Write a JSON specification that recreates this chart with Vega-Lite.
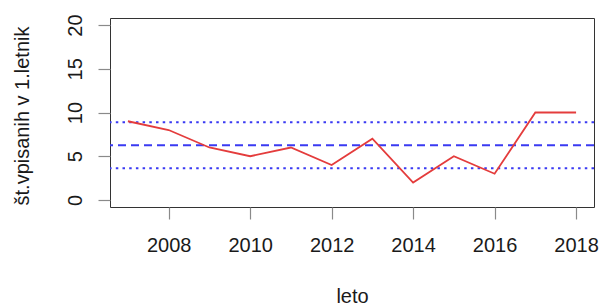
{
  "$schema": "https://vega.github.io/schema/vega-lite/v6.json",
  "autosize": {"type": "none"},
  "width": 484,
  "height": 189,
  "padding": {"left": 110, "top": 18, "right": 9, "bottom": 100},
  "background": "white",
  "config": {
    "view": {"stroke": "#333333", "strokeWidth": 1},
    "font": "Liberation Sans",
    "axis": {
      "grid": false,
      "domain": false,
      "tickColor": "#8a8a8a",
      "tickWidth": 1.2,
      "tickSize": 12,
      "labelFont": "Liberation Sans",
      "labelFontSize": 20,
      "labelColor": "#1a1a1a",
      "titleFont": "Liberation Sans",
      "titleFontSize": 20,
      "titleFontWeight": "normal",
      "titleColor": "#1a1a1a"
    }
  },
  "datasets": {
    "enrol": [
      {"leto": 2007, "st": 9},
      {"leto": 2008, "st": 8},
      {"leto": 2009, "st": 6},
      {"leto": 2010, "st": 5},
      {"leto": 2011, "st": 6},
      {"leto": 2012, "st": 4},
      {"leto": 2013, "st": 7},
      {"leto": 2014, "st": 2},
      {"leto": 2015, "st": 5},
      {"leto": 2016, "st": 3},
      {"leto": 2017, "st": 10},
      {"leto": 2018, "st": 10}
    ],
    "refs": [
      {"kind": "mean", "y": 6.25},
      {"kind": "upper", "y": 8.883},
      {"kind": "lower", "y": 3.617}
    ]
  },
  "layer": [
    {
      "data": {"name": "refs"},
      "transform": [{"filter": "datum.kind !== 'mean'"}],
      "mark": {"type": "rule", "color": "#3a3af2", "strokeWidth": 2, "strokeDash": [2.5, 4.2]},
      "encoding": {
        "y": {"field": "y", "type": "quantitative", "scale": {"domain": [-0.8, 20.8], "nice": false, "zero": false}}
      }
    },
    {
      "data": {"name": "refs"},
      "transform": [{"filter": "datum.kind === 'mean'"}],
      "mark": {"type": "rule", "color": "#3a3af2", "strokeWidth": 2, "strokeDash": [8, 5]},
      "encoding": {
        "y": {"field": "y", "type": "quantitative"}
      }
    },
    {
      "data": {"name": "enrol"},
      "mark": {"type": "line", "color": "#e43c3c", "strokeWidth": 1.8},
      "encoding": {
        "x": {
          "field": "leto",
          "type": "quantitative",
          "scale": {"domain": [2006.56, 2018.44], "nice": false, "zero": false},
          "axis": {
            "values": [2008, 2010, 2012, 2014, 2016, 2018],
            "format": "d",
            "labelPadding": 32,
            "labelBaseline": "alphabetic",
            "title": "leto",
            "titleBaseline": "alphabetic",
            "titleY": 95,
            "titleX": 242,
            "titleAnchor": "middle"
          }
        },
        "y": {
          "field": "st",
          "type": "quantitative",
          "scale": {"domain": [-0.8, 20.8], "nice": false, "zero": false},
          "axis": {
            "values": [0, 5, 10, 15, 20],
            "labelAngle": -90,
            "labelAlign": "center",
            "labelBaseline": "alphabetic",
            "labelPadding": 17,
            "title": "št.vpisanih v 1.letnik",
            "titleAngle": -90,
            "titleBaseline": "alphabetic",
            "titleAlign": "center",
            "titleX": -82,
            "titleY": 97.5
          }
        }
      }
    }
  ]
}
